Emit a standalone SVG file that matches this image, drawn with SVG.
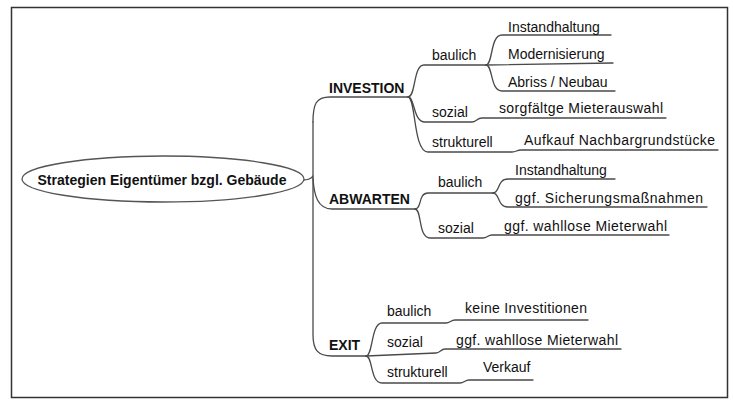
<svg xmlns="http://www.w3.org/2000/svg" width="733" height="405" viewBox="0 0 733 405">
<style>
.t{font-family:"Liberation Sans",Arial,sans-serif;font-size:14px;fill:#111}
.b{font-weight:bold}
.c{fill:none;stroke:#4a4a4a;stroke-width:1.3;stroke-linecap:round;stroke-linejoin:round}
</style>
<rect x="11.5" y="7.5" width="716" height="390" fill="#fff" stroke="#333" stroke-width="1.5"/>
<g id="connectors" class="c">
<path d="M303,180 C308,180 311,179 313,176"/>
<path d="M313,122 C313,104 316,97 330,97 L408,97"/>
<path d="M313,122 L313,335 C313,350 318,356 332,356 L366,356"/>
<path d="M313,178 C314,196 318,209 332,209 L415,209"/>
<path d="M408,97 C416,97 413,65 424,65 L486,65"/>
<path d="M408,97 C415,97 413,122 425,122 L472,122 C476,122 477,118 482,118 L666,118"/>
<path d="M408,97 C416,97 413,152 428,152 L512,152 C516,152 517,150 521,150 L718,150"/>
<path d="M486,65 C493,65 490,35 502,35 L611,35"/>
<path d="M486,65 L613,63"/>
<path d="M486,65 C493,65 490,91 502,91 L615,91"/>
<path d="M415,209 C422,209 418,193 428,193 L493,193"/>
<path d="M415,209 C422,209 418,238 430,238 L483,238 C487,238 488,235 492,235 L669,235"/>
<path d="M493,193 C500,193 497,179 508,179 L615,179"/>
<path d="M493,193 C500,193 497,207 508,207 L707,207"/>
<path d="M366,356 C373,356 371,323 382,323 L446,323 C450,323 451,320 455,320 L588,320"/>
<path d="M366,356 L436,353 C440,353 441,349 445,349 L621,349"/>
<path d="M366,356 C373,356 370,383 382,383 L460,383 C464,383 465,380 469,380 L533,380"/>
</g>
<g id="root">
<ellipse cx="163" cy="179" rx="141" ry="23" fill="#fff" stroke="#555" stroke-width="1.3"/>
<text class="t b" x="162" y="185" text-anchor="middle">Strategien Eigentümer bzgl. Gebäude</text>
</g>
<g id="investion"><text class="t b" x="329" y="93">INVESTION</text></g>
<g id="inv-baulich"><text class="t" x="432" y="60">baulich</text></g>
<g id="inv-instandhaltung"><text class="t" x="508" y="32">Instandhaltung</text></g>
<g id="inv-modernisierung"><text class="t" x="508" y="59">Modernisierung</text></g>
<g id="inv-abriss"><text class="t" x="508" y="87">Abriss / Neubau</text></g>
<g id="inv-sozial"><text class="t" x="432" y="117">sozial</text></g>
<g id="inv-mieterauswahl"><text class="t" x="499" y="113" textLength="164" lengthAdjust="spacing">sorgfältge Mieterauswahl</text></g>
<g id="inv-strukturell"><text class="t" x="432" y="147">strukturell</text></g>
<g id="inv-aufkauf"><text class="t" x="524" y="145" textLength="191" lengthAdjust="spacing">Aufkauf Nachbargrundstücke</text></g>
<g id="abwarten"><text class="t b" x="329" y="204">ABWARTEN</text></g>
<g id="abw-baulich"><text class="t" x="438" y="187">baulich</text></g>
<g id="abw-instandhaltung"><text class="t" x="515" y="175">Instandhaltung</text></g>
<g id="abw-sicherung"><text class="t" x="515" y="203" textLength="188" lengthAdjust="spacing">ggf. Sicherungsmaßnahmen</text></g>
<g id="abw-sozial"><text class="t" x="438" y="233">sozial</text></g>
<g id="abw-mieterwahl"><text class="t" x="504" y="231" textLength="163" lengthAdjust="spacing">ggf. wahllose Mieterwahl</text></g>
<g id="exit"><text class="t b" x="329" y="350">EXIT</text></g>
<g id="exit-baulich"><text class="t" x="387" y="316">baulich</text></g>
<g id="exit-keine"><text class="t" x="465" y="313" textLength="122" lengthAdjust="spacing">keine Investitionen</text></g>
<g id="exit-sozial"><text class="t" x="387" y="347">sozial</text></g>
<g id="exit-mieterwahl"><text class="t" x="456" y="345" textLength="162" lengthAdjust="spacing">ggf. wahllose Mieterwahl</text></g>
<g id="exit-strukturell"><text class="t" x="387" y="377">strukturell</text></g>
<g id="exit-verkauf"><text class="t" x="483" y="372">Verkauf</text></g>
</svg>
